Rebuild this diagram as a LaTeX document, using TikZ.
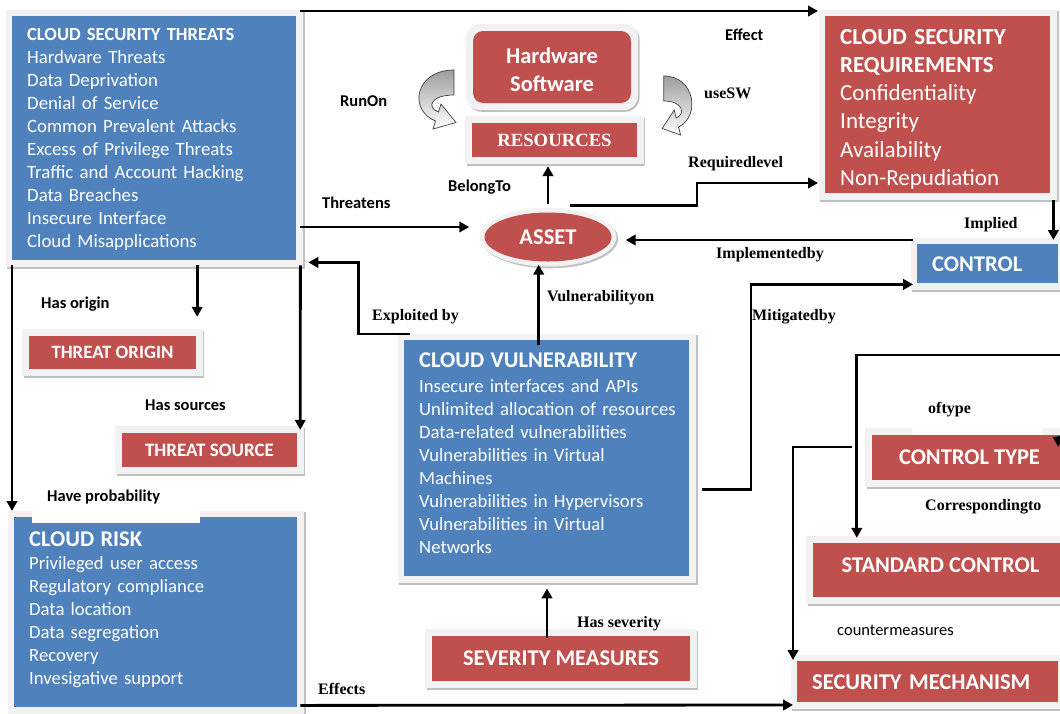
\documentclass[tikz,border=0pt]{standalone}
\usepackage{fontspec}
\setmainfont{Carlito}
\newfontfamily\tnr{Liberation Serif}
\usetikzlibrary{arrows.meta,shapes.geometric,shadows,backgrounds,fit,calc}
\definecolor{cblue}{HTML}{4F81BD}
\definecolor{cred}{HTML}{C0504D}
\definecolor{cframe}{HTML}{F2F2F2}
\newcommand{\setfs}[2]{\fontsize{#1}{#2}\selectfont}
\begin{document}
\begin{tikzpicture}[x=1pt,y=-1pt,
  box/.style={draw=none, inner sep=0pt, text=white},
  bluebox/.style={box, fill=cblue},
  redbox/.style={box, fill=cred},
  listbox/.style={align=left, inner xsep=15pt, inner ysep=0pt},
  frame/.style={fill=cframe, draw=none, inner sep=6.5pt,
    drop shadow={shadow xshift=1.6pt, shadow yshift=-1.8pt, fill=black!30, opacity=.8}},
  capt/.style={font=\setfs{22.5}{28}\bfseries},
  lbl/.style={inner sep=0pt, text=black, font=\setfs{16.5}{19}\bfseries},
  plbl/.style={inner sep=0pt, text=black, font=\setfs{16.5}{19}},
  slbl/.style={inner sep=0pt, text=black, font=\tnr\setfs{16}{19}\bfseries},
  arr/.style={line width=2.8pt, -{Triangle[length=10pt,width=10.5pt]}},
  hollow/.style={draw=black!75, line width=0.7pt, top color=black!38,
    middle color=white, bottom color=white},
]
\useasboundingbox (0,0) rectangle (1060,713);

% ---------- boxes ----------
\node[bluebox, listbox, anchor=north west, minimum width=284pt, minimum height=244pt,
      text width=254pt, text height=24.7pt, text depth=219.3pt, font=\setfs{18.8}{22.9}]
  (thr) at (12,16) {{\setfs{18.5}{22.9}\bfseries CLOUD SECURITY THREATS}\\
  Hardware Threats\\ Data Deprivation\\ Denial of Service\\ Common Prevalent Attacks\\
  Excess of Privilege Threats\\ Traffic and Account Hacking\\ Data Breaches\\
  Insecure Interface\\ Cloud Misapplications};

\node[redbox, listbox, anchor=north west, minimum width=225pt, minimum height=177pt,
      text width=195pt, text height=28pt, text depth=149pt, font=\setfs{23}{28.2}]
  (req) at (825,16) {{\bfseries CLOUD SECURITY\\ REQUIREMENTS}\\
  Confidentiality\\ Integrity\\ Availability\\ Non-Repudiation};

\node[redbox, capt, rounded corners=10pt, minimum width=158pt, minimum height=72pt,
      align=center, text width=158pt, text height=32pt, text depth=40pt]
  (hw) at (552,67) {Hardware\\ Software};

\node[redbox, minimum width=165pt, minimum height=34pt, font=\tnr\setfs{18.7}{20}\bfseries]
  (res) at (554.5,140) {RESOURCES};

\node[redbox, capt, ellipse, minimum width=127pt, minimum height=49pt]
  (asset) at (548,237) {ASSET};

\node[bluebox, capt, align=left, anchor=north west, inner xsep=15pt,
      minimum width=141pt, minimum height=39pt, text width=111pt]
  (ctrl) at (917,244) {CONTROL};

\node[bluebox, listbox, anchor=north west, minimum width=285pt, minimum height=236pt,
      text width=255pt, text height=27pt, text depth=209pt, font=\setfs{18.7}{23}]
  (vul) at (404,340) {{\setfs{22.5}{23}\bfseries CLOUD VULNERABILITY}\\[2pt]
  Insecure interfaces and APIs\\ \mbox{Unlimited allocation of resources}\\
  Data-related vulnerabilities\\ Vulnerabilities in Virtual\\ Machines\\
  Vulnerabilities in Hypervisors\\ Vulnerabilities in Virtual\\ Networks};

\node[redbox, minimum width=167pt, minimum height=33pt, font=\setfs{18.8}{20}\bfseries]
  (origin) at (112.5,352.5) {THREAT ORIGIN};

\node[redbox, minimum width=175pt, minimum height=34pt, font=\setfs{19}{20}\bfseries]
  (source) at (209.5,450) {THREAT SOURCE};

\node[bluebox, listbox, anchor=north west, minimum width=283pt, minimum height=190pt,
      text width=253pt, text height=29pt, text depth=161pt, font=\setfs{18.7}{23}]
  (risk) at (14,517) {{\setfs{22.5}{23}\bfseries CLOUD RISK}\\
  Privileged user access\\ Regulatory compliance\\ Data location\\
  Data segregation\\ Recovery\\ Invesigative support};

\node[redbox, capt, minimum width=258pt, minimum height=45pt]
  (sev) at (561,658.5) {SEVERITY MEASURES};

\node[redbox, capt, minimum width=195pt, minimum height=45pt]
  (ctype) at (969.5,457.5) {CONTROL TYPE};

\node[redbox, capt, minimum width=255pt, minimum height=54pt, text depth=10pt]
  (std) at (940.5,570) {STANDARD CONTROL};

\node[redbox, capt, align=left, anchor=north west, inner xsep=15pt,
      minimum width=261pt, minimum height=41pt, text width=231pt]
  (mech) at (797,661) {SECURITY MECHANISM};

% ---------- light frames with soft shadows ----------
\begin{scope}[on background layer]
  \foreach \n in {thr,req,res,ctrl,vul,origin,source,risk,sev,ctype,std,mech}
    \node[frame, fit=(\n)] (\n frame) {};
  \node[frame, rounded corners=14pt, inner sep=0pt, minimum width=172pt,
        minimum height=86pt] (hwring) at (hw) {};
  \node[frame, ellipse, inner sep=0pt, minimum width=137pt,
        minimum height=59pt] (assetring) at (asset) {};
\end{scope}

% white label backgrounds breaking the frames
\fill[white] (32,485) rectangle (200,523);
\fill[white] (912,400) rectangle (1043,434.5);

% ---------- curved hollow arrows beside the resources ----------
\path[hollow] (454,70) .. controls (415,70) and (408,110) .. (435.5,121)
  -- (433,129) -- (456,122.5) -- (441,104) -- (438.5,112)
  .. controls (426.5,108) and (430,95) .. (454,95) -- cycle;
\begin{scope}[shift={(1027,6)}, xscale=-0.8]
\path[hollow] (454,70) .. controls (415,70) and (408,110) .. (435.5,121)
  -- (433,129) -- (456,122.5) -- (441,104) -- (438.5,112)
  .. controls (426.5,108) and (430,95) .. (454,95) -- cycle;
\end{scope}

% ---------- connectors ----------
\draw[arr] ($(thr.north east)+(4,-5)$) -- ($(req.north west)+(-7,-5)$);
\draw[arr] ($(asset.north)+(0,-8)$) -- ($(asset.north |- res.south)+(0,9)$);
\draw[arr] ($(asset.north)+(22,-7)$) -- ++(127,0) |- ($(req.west |- 0,183)+(-7,0)$);
\draw[arr, line width=2.2pt] ($(thr.east |- 0,227)+(4,0)$) -- ($(asset.west |- 0,227)+(-15,0)$);
\coordinate (impl) at (822,240);
\draw[line width=1.3pt] ($(ctrl.north west)+(-4,-4)$) -- (impl);
\draw[arr] (impl) -- ($(asset.east |- impl)+(14,0)$);
\draw[arr] ($(ctrl.north east |- req.south)+(-5,7)$) -- ($(ctrl.north east)+(-5,-4)$);
\draw[arr] ($(vul.north)+(-8,5)$) -- ($(vul.north |- asset.south)+(-8,3)$);
\draw[arr] ($(vul.north west)+(6,-6)$) -| ($(thr.south east)+(62,2)$) -- ($(thr.south east)+(12,2)$);
\draw[arr] ($(vul.east)+(13,31)$) -| ($(ctrl.south west)+(-166,1)$) -- ($(ctrl.south west)+(-4,1)$);
\draw[arr] ($(thr.south -| origin.east)+(1,5)$) -- ($(origin.north east)+(1,-19)$);
\draw[arr] ($(thr.south east)+(4,5)$) -- ($(source.north east)+(3,-3)$);
\draw[arr] ($(thr.south west)+(0,5)$) -- ($(risk.north west)+(-2,-6)$);
\draw[arr] ($(risk.south east)+(3,-2)$) -- ($(mech.south west |- 0,705)+(-4,0)$);
\draw[arr] ($(sev.north)+(-14,2)$) -- ($(sev.north |- vul.south)+(-14,12)$);
\coordinate (rightin) at (1062,355);
\draw[arr] (rightin) -| ($(std.north west)+(44,-5)$);
\draw[arr] ($(ctype.west)+(-20,-10.5)$) -| ($(mech.north west)+(-4,-1)$);
\draw[arr] ($(ctype.north east)+(-9,1)$) -- ($(ctype.north east)+(-9,12)$);

% ---------- connector labels ----------
\node[lbl, anchor=base west] (l-effect) at (725,40) {Effect};
\node[lbl, anchor=base west] (l-runon) at (340,106) {RunOn};
\node[slbl, anchor=base west] (l-usesw) at (704,98) {useSW};
\node[lbl, anchor=base west] (l-belong) at (448,191) {BelongTo};
\node[slbl, anchor=base west] (l-reqlvl) at (688,167) {Requiredlevel};
\node[lbl, anchor=base west] (l-threat) at (322,208) {Threatens};
\node[slbl, anchor=base west] (l-implby) at (716,258) {Implementedby};
\node[slbl, anchor=base west] (l-implied) at (964,228) {Implied};
\node[slbl, anchor=base west] (l-vulon) at (547,301) {Vulnerabilityon};
\node[slbl, anchor=base west] (l-exploit) at (372,320) {Exploited by};
\node[slbl, anchor=base west] (l-mitig) at (752,320) {Mitigatedby};
\node[lbl, anchor=base west] (l-origin) at (41,308) {Has origin};
\node[lbl, anchor=base west] (l-sources) at (145,410) {Has sources};
\node[lbl, anchor=base west] (l-prob) at (47,501) {Have probability};
\node[slbl, anchor=base west] (l-oftype) at (928,413) {oftype};
\node[slbl, anchor=base west] (l-corr) at (925,510) {Correspondingto};
\node[slbl, anchor=base west] (l-sever) at (577,627) {Has severity};
\node[plbl, anchor=base west] (l-counter) at (837,635) {countermeasures};
\node[slbl, anchor=base west] (l-effects) at (318,694) {Effects};
\end{tikzpicture}
\end{document}
